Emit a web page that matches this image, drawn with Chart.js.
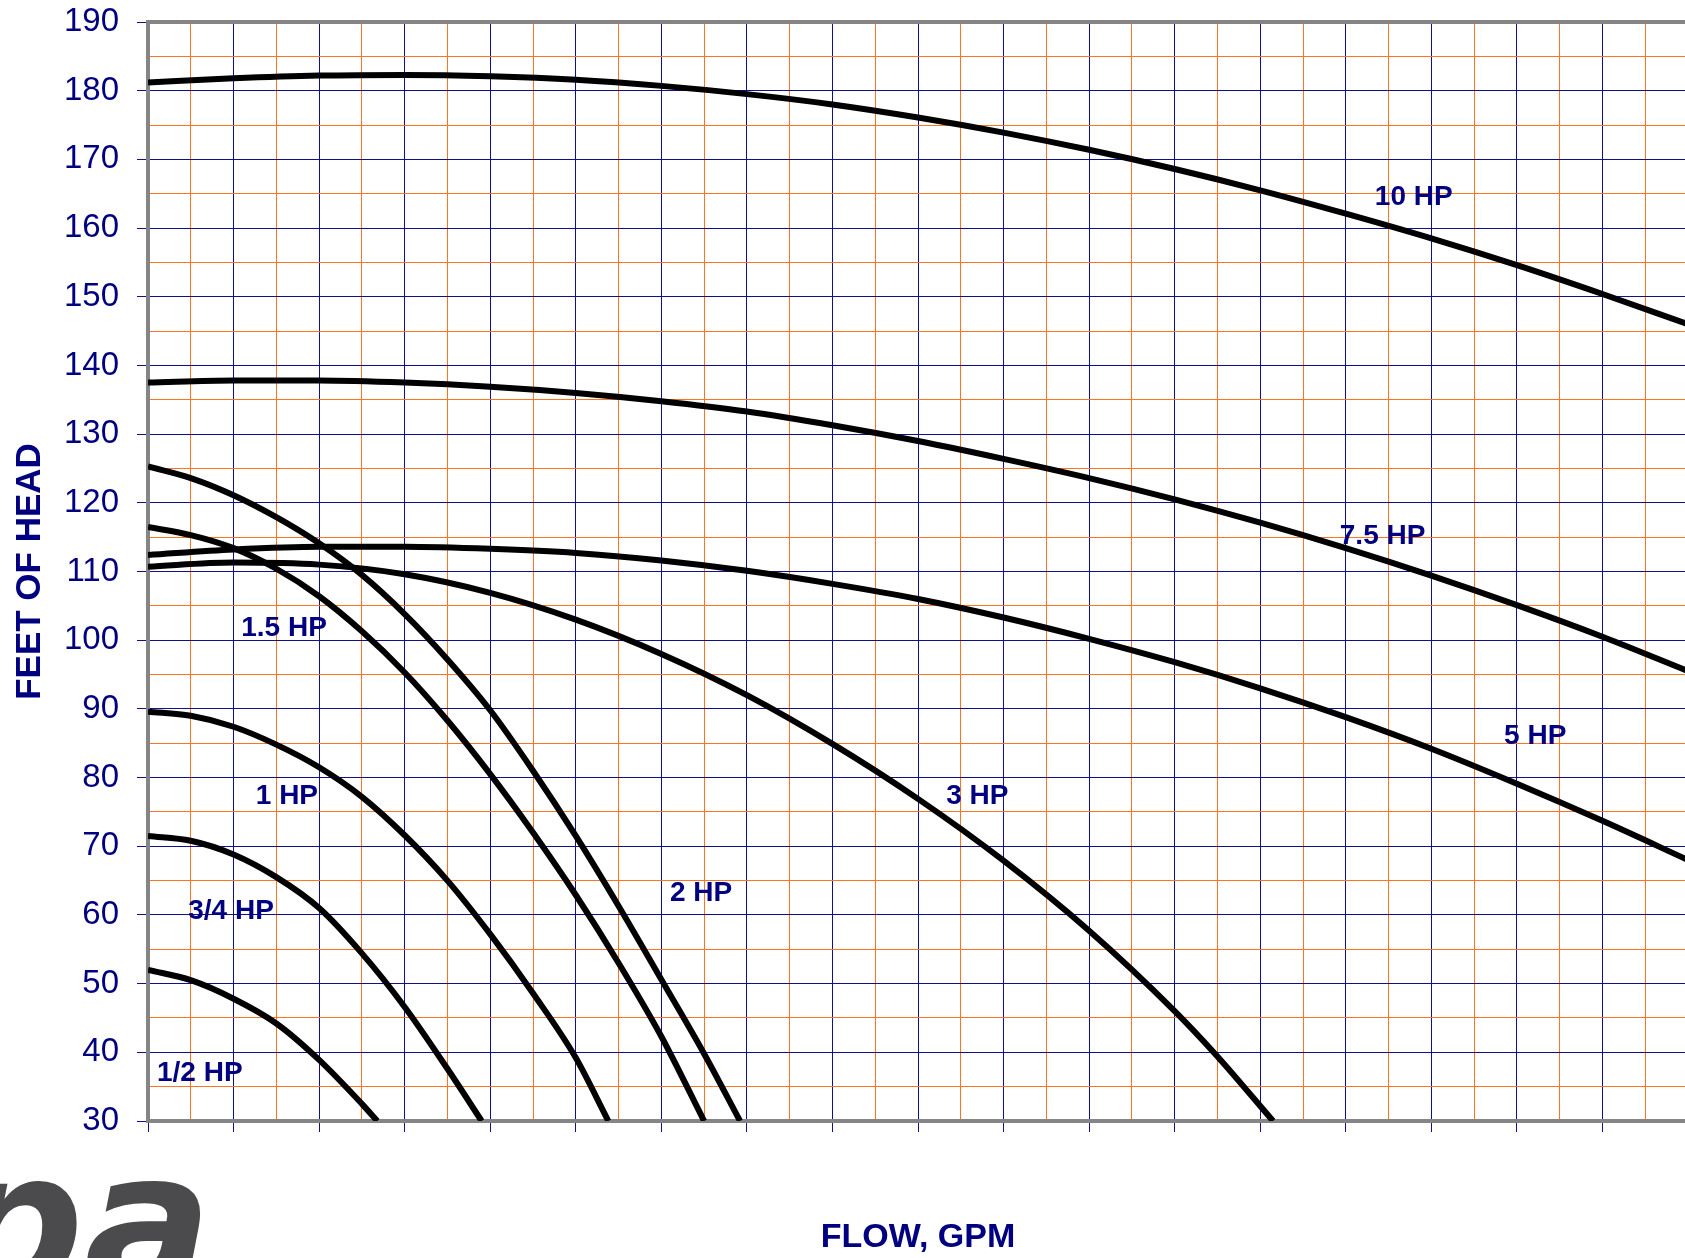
<!DOCTYPE html>
<html>
<head>
<meta charset="utf-8">
<script src="https://cdn.jsdelivr.net/npm/chart.js@4"></script>
<style>
  html, body { margin: 0; padding: 0; background: #fff; overflow: hidden; }
  #wrap { width: 1691px; height: 1258px; }
</style>
</head>
<body>
<div id="wrap"><canvas id="pumpChart" width="1691" height="1258"></canvas></div>
<script>
// Pump curves: flow (GPM) vs feet of head
const flowHalf = [0, 5, 10, 15, 20, 25, 26.8];
const headHalf = [52.0, 50.5, 47.8, 44.2, 38.9, 32.5, 30];

const flowThreeQ = [0, 5, 10, 15, 20, 25, 30, 35, 39];
const headThreeQ = [71.5, 70.8, 68.8, 65.5, 61.0, 54.4, 46.6, 37.6, 30];

const flowOne = [0, 5, 10, 15, 20, 25, 30, 35, 40, 45, 50, 53.8];
const headOne = [89.6, 89.0, 87.4, 84.8, 81.5, 77.2, 71.6, 65.0, 57.2, 48.6, 39.2, 30];

const flowOneHalf = [0, 5, 10, 15, 20, 25, 30, 35, 40, 45, 50, 55, 60, 65];
const headOneHalf = [116.5, 115.3, 113.4, 110.4, 106.4, 101.3, 95.3, 88.3, 80.5, 72.0, 62.9, 53.0, 42.3, 30];

const flowTwo = [0, 5, 10, 15, 20, 25, 30, 35, 40, 45, 50, 55, 60, 65, 69.2];
const headTwo = [125.3, 123.6, 121.1, 117.9, 114.1, 109.5, 103.8, 97.2, 89.8, 81.0, 71.5, 61.3, 50.6, 39.8, 30];

const flowThree = [0, 10, 20, 30, 40, 50, 60, 70, 80, 90, 100, 110, 120, 125, 131.5];
const headThree = [110.7, 111.3, 111.0, 109.6, 106.9, 103.0, 98.0, 92.0, 84.9, 76.9, 67.9, 57.7, 46.0, 39.4, 30];

const flowWide = [0, 10, 20, 30, 40, 50, 60, 70, 80, 90, 100, 110, 120, 130, 140, 150, 160, 170, 180];
const headFive = [112.4, 113.2, 113.6, 113.6, 113.3, 112.7, 111.6, 110.1, 108.2, 106.0, 103.3, 100.2, 96.8, 93.0, 88.8, 84.2, 79.1, 73.7, 68.0];
const headSevenHalf = [137.5, 137.8, 137.8, 137.5, 136.9, 136.0, 134.8, 133.3, 131.3, 129.0, 126.4, 123.6, 120.5, 117.1, 113.4, 109.4, 105.1, 100.5, 95.5];
const headTen = [181.2, 181.8, 182.2, 182.3, 182.1, 181.6, 180.7, 179.5, 178.0, 176.1, 173.9, 171.4, 168.6, 165.5, 162.1, 158.5, 154.6, 150.4, 146.0];

// curve labels
const labelText = ['10 HP', '7.5 HP', '5 HP', '3 HP', '2 HP', '1.5 HP', '1 HP', '3/4 HP', '1/2 HP'];
const labelFlow = [143.4, 139.3, 158.5, 93.3, 61.0, 10.9, 12.6, 4.7, 1.05];
const labelHead = [164.5, 115.2, 86.0, 77.3, 63.2, 101.8, 77.3, 60.6, 37.0];

// axis ranges
const headMin = 30, headMax = 190;
const flowMin = 0, flowMax = 180;

const NAVY = '#000080';
const BLUE_GRID = '#10108a';
const ORANGE_GRID = '#ff7420';
const FONT = "'Liberation Sans', Arial, sans-serif";

function pts(xs, ys) {
  return xs.map((x, i) => ({ x: x, y: ys[i] }));
}

function curve(label, xs, ys) {
  return {
    label: label,
    data: pts(xs, ys),
    borderColor: '#000',
    borderWidth: 6,
    pointRadius: 0,
    fill: false,
    cubicInterpolationMode: 'monotone',
    capBezierPoints: false
  };
}

const datasets = [
  curve('1/2 HP', flowHalf, headHalf),
  curve('3/4 HP', flowThreeQ, headThreeQ),
  curve('1 HP', flowOne, headOne),
  curve('1.5 HP', flowOneHalf, headOneHalf),
  curve('2 HP', flowTwo, headTwo),
  curve('3 HP', flowThree, headThree),
  curve('5 HP', flowWide, headFive),
  curve('7.5 HP', flowWide, headSevenHalf),
  curve('10 HP', flowWide, headTen)
];

const isMajor = v => Math.abs(v % 10) < 1e-6;

// grey frame around the plot (left, top, bottom)
const framePlugin = {
  id: 'frame',
  beforeDatasetsDraw(chart) {
    const { ctx, chartArea: a } = chart;
    ctx.save();
    ctx.strokeStyle = '#858585';
    ctx.lineWidth = 4;
    ctx.beginPath();
    ctx.moveTo(a.right + 5, a.top);
    ctx.lineTo(a.left, a.top);
    ctx.lineTo(a.left, a.bottom);
    ctx.lineTo(a.right + 5, a.bottom);
    ctx.stroke();
    ctx.restore();
  }
};

// HP labels next to each curve
const curveLabels = {
  id: 'curveLabels',
  afterDatasetsDraw(chart) {
    const { ctx, scales } = chart;
    ctx.save();
    ctx.font = 'bold 28px ' + FONT;
    ctx.fillStyle = NAVY;
    ctx.textAlign = 'left';
    ctx.textBaseline = 'middle';
    labelText.forEach((t, i) => {
      ctx.fillText(t, scales.x.getPixelForValue(labelFlow[i]), scales.y.getPixelForValue(labelHead[i]));
    });
    ctx.restore();
  }
};

// partial company logo at the lower left
const logoPlugin = {
  id: 'logo',
  afterDraw(chart) {
    const ctx = chart.ctx;
    ctx.save();
    ctx.fillStyle = '#4b4b4d';
    ctx.font = "italic bold 190px 'DejaVu Sans', sans-serif";
    ctx.textBaseline = 'alphabetic';
    ctx.fillText('pa', -52, 1288);
    ctx.restore();
  }
};

new Chart(document.getElementById('pumpChart').getContext('2d'), {
  type: 'line',
  data: { datasets: datasets },
  options: {
    responsive: false,
    animation: false,
    layout: { padding: { top: 22, right: 0, left: 0, bottom: 0 } },
    plugins: {
      legend: { display: false },
      tooltip: { enabled: false }
    },
    scales: {
      x: {
        type: 'linear',
        min: flowMin,
        max: flowMax,
        afterFit(scale) { scale.height = 137; },
        border: { display: false },
        grid: {
          lineWidth: 1,
          tickLength: 11,
          color: c => isMajor(c.tick.value) ? BLUE_GRID : ORANGE_GRID,
          tickColor: c => isMajor(c.tick.value) ? BLUE_GRID : 'rgba(0,0,0,0)'
        },
        ticks: {
          stepSize: 5,
          autoSkip: false,
          callback: () => ''
        },
        title: {
          display: true,
          text: 'FLOW, GPM',
          color: NAVY,
          font: { family: FONT, size: 34, weight: 'bold' },
          padding: { top: 0, bottom: 0 }
        }
      },
      y: {
        type: 'linear',
        min: headMin,
        max: headMax,
        afterFit(scale) {
          scale.width = 148;
          scale.paddingTop = 0;
          scale.paddingBottom = 0;
        },
        border: { display: false },
        grid: {
          lineWidth: 1,
          tickLength: 11,
          color: c => isMajor(c.tick.value) ? BLUE_GRID : ORANGE_GRID,
          tickColor: c => isMajor(c.tick.value) ? BLUE_GRID : 'rgba(0,0,0,0)'
        },
        ticks: {
          stepSize: 5,
          autoSkip: false,
          padding: 18,
          color: NAVY,
          font: { family: FONT, size: 33 },
          callback: v => isMajor(v) ? String(v) : ''
        },
        title: {
          display: true,
          text: 'FEET OF HEAD',
          color: NAVY,
          font: { family: FONT, size: 35, weight: 'bold' },
          padding: { top: 9, bottom: 0 }
        }
      }
    }
  },
  plugins: [framePlugin, curveLabels, logoPlugin]
});
</script>
</body>
</html>
